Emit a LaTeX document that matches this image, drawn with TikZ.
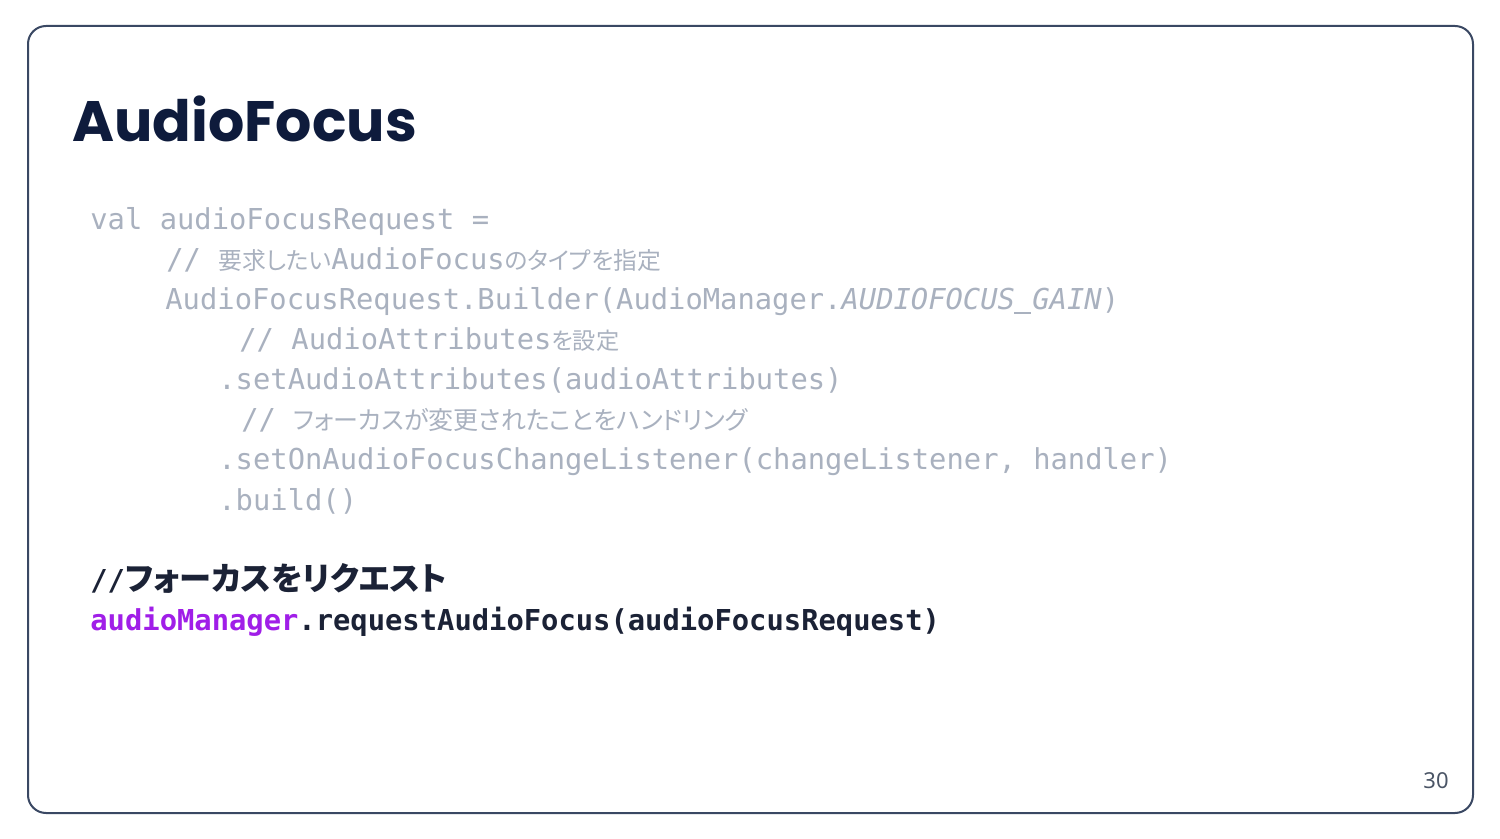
\documentclass[tikz,border=0pt]{standalone}
\usepackage{fontspec}
\setmainfont{DejaVu Sans}
\newfontfamily\codefont{DejaVu Sans Mono}
\newfontfamily\jp{Noto Sans CJK JP}[RawFeature=+palt]
\newfontfamily\titlefont{Poppins}
\newfontfamily\numfont{Noto Sans}
\definecolor{codegrey}{HTML}{A9B1BF}
\definecolor{titlenavy}{HTML}{0E1B3C}
\definecolor{codedark}{HTML}{1B2236}
\definecolor{codepurple}{HTML}{A01EE8}
\definecolor{framecol}{HTML}{3A4863}
\definecolor{numcol}{HTML}{4B5566}
\newcommand{\jpc}[2][12.5]{{\jp\fontsize{#1}{14}\selectfont #2}}
\newcommand{\jpb}[1]{{\jp\bfseries\fontsize{16.1}{18}\selectfont #1}}
\newcommand{\uscore}{\makebox[0.602em][l]{\hspace{-0.03em}\rule[-0.13em]{0.58em}{0.07em}}}
\tikzset{
  codeline/.style={anchor=base west, inner sep=0pt, text=codegrey, font=\codefont\fontsize{14.4}{17}\selectfont},
  darkline/.style={anchor=base west, inner sep=0pt, text=codedark, font=\codefont\fontsize{14.4}{17}\selectfont},
  titletext/.style={anchor=base west, inner sep=0pt, text=titlenavy, font=\titlefont\bfseries\fontsize{28.5}{34}\selectfont},
  pagenum/.style={anchor=base east, inner sep=0pt, text=numcol, font=\numfont\fontsize{11}{13}\selectfont},
  slideframe/.style={draw=framecol, line width=1pt, rounded corners=9pt}
}
\begin{document}
\begin{tikzpicture}[x=0.5pt,y=-0.5pt]
\useasboundingbox (0,0) rectangle (1500,839);
\fill[white] (0,0) rectangle (1500,839);
\draw[slideframe] (28,26) rectangle (1473,813);
\node[titletext] (title) at (72,142) {AudioFocus};
\node[codeline] (l1) at (90,230) {val audioFocusRequest =};
\node[codeline] (l2) at (166,270) {// \jpc[11.9]{要求したい}AudioFocus\jpc[11.9]{のタイプを指定}};
\node[codeline] (l3) at (165,310) {AudioFocusRequest.Builder(AudioManager.\textit{AUDIOFOCUS\uscore GAIN})};
\node[codeline] (l4) at (239,350) {// AudioAttributes\jpc[11.6]{を設定}};
\node[codeline] (l5) at (218,390) {.setAudioAttributes(audioAttributes)};
\node[codeline] (l6) at (241,430) {// \jpc{フォーカスが変更されたことをハンドリング}};
\node[codeline] (l7) at (218,470) {.setOnAudioFocusChangeListener(changeListener, handler)};
\node[codeline] (l8) at (218,510) {.build()};
\node[darkline] (l9) at (90,590) {\bfseries//\jpb{フォーカスをリクエスト}};
\node[darkline] (l10) at (90,630) {\bfseries\textcolor{codepurple}{audioManager}.requestAudioFocus(audioFocusRequest)};
\node[pagenum] (num) at (1449,788) {30};
\end{tikzpicture}
\end{document}
